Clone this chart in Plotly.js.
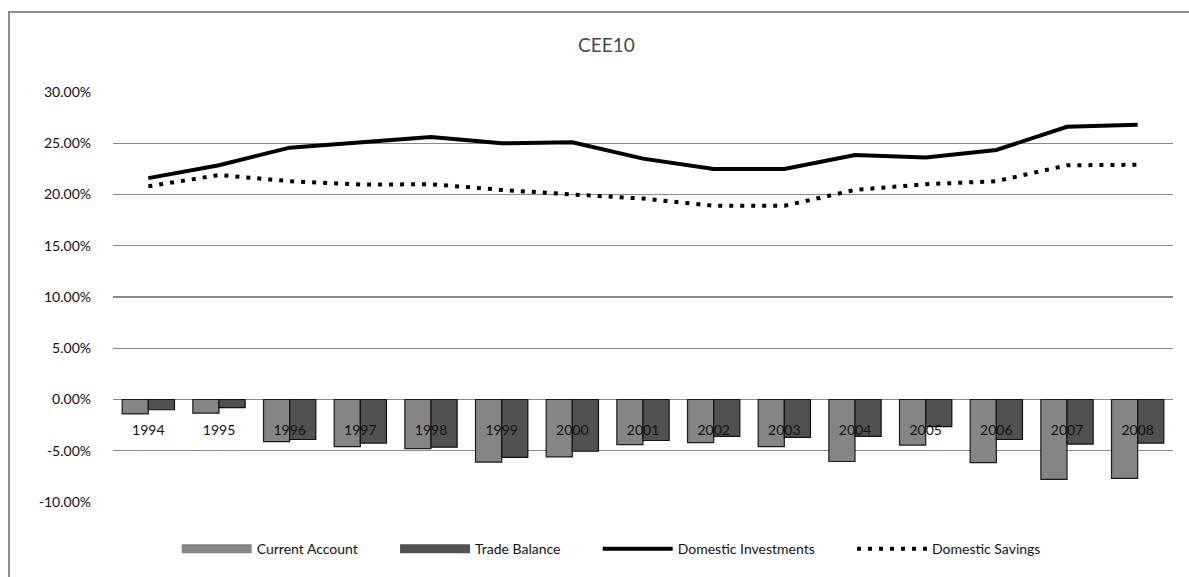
<!DOCTYPE html>
<html>
<head>
<meta charset="utf-8">
<script src="https://cdn.plot.ly/plotly-3.0.1.min.js"></script>
<style>
  html, body { margin: 0; padding: 0; background: #fff; overflow: hidden; }
  #wrap { position: relative; width: 1189px; height: 577px; }
  #chart { position: absolute; left: 0; top: 0; width: 1189px; height: 577px; }
  #frame { position: absolute; left: 8px; top: 11px; width: 1300px; height: 700px;
           border: 2px solid #8c8c8c; pointer-events: none; box-sizing: border-box; }
</style>
</head>
<body>
<div id="wrap">
  <div id="chart"></div>
  <div id="frame"></div>
</div>
<script>
const years = ["1994","1995","1996","1997","1998","1999","2000","2001","2002","2003","2004","2005","2006","2007","2008"];
const currentAccount = [-0.014,-0.0133,-0.041,-0.046,-0.048,-0.061,-0.056,-0.044,-0.042,-0.046,-0.0605,-0.0445,-0.0615,-0.078,-0.077];
const tradeBalance   = [-0.010,-0.008,-0.039,-0.0425,-0.0465,-0.0565,-0.0505,-0.040,-0.036,-0.037,-0.036,-0.0265,-0.039,-0.0435,-0.0425];
const domesticInvestments = [0.216,0.2285,0.2457,0.2505,0.256,0.250,0.251,0.235,0.225,0.225,0.2385,0.236,0.2435,0.266,0.268];
const domesticSavings     = [0.208,0.219,0.213,0.2097,0.210,0.2045,0.200,0.196,0.189,0.189,0.2045,0.210,0.213,0.2285,0.229];
const yTickVals = [-0.10,-0.05,0,0.05,0.10,0.15,0.20,0.25,0.30];
const yTickText = ["-10.00%","-5.00%","0.00%","5.00%","10.00%","15.00%","20.00%","25.00%","30.00%"];
const seriesNames = ["Current Account","Trade Balance","Domestic Investments","Domestic Savings"];

const FONT = "Lato, 'Open Sans', sans-serif";
const PAD = "\u00a0".repeat(9);

const traces = [
  {
    type: "bar", name: seriesNames[0], x: years, y: currentAccount, showlegend: false,
    marker: { color: "#858585", line: { color: "#1a1a1a", width: 1.2 } }
  },
  {
    type: "bar", name: seriesNames[1], x: years, y: tradeBalance, showlegend: false,
    marker: { color: "#515151", line: { color: "#111", width: 1.2 } }
  },
  // legend swatches for the bar series (wide rectangles, as in the original)
  {
    type: "scatter", mode: "lines", name: seriesNames[0] + PAD, x: [years[0]], y: [null],
    line: { color: "#858585", width: 9 }, hoverinfo: "skip"
  },
  {
    type: "scatter", mode: "lines", name: seriesNames[1] + PAD, x: [years[0]], y: [null],
    line: { color: "#515151", width: 9 }, hoverinfo: "skip"
  },
  {
    type: "scatter", mode: "lines", name: seriesNames[2] + PAD, x: years, y: domesticInvestments,
    line: { color: "#000", width: 4 }
  },
  {
    type: "scatter", mode: "lines", name: seriesNames[3], x: years, y: domesticSavings,
    line: { color: "#000", width: 4, dash: "4px,7px" }
  }
];

const layout = {
  width: 1189, height: 577,
  paper_bgcolor: "#fff", plot_bgcolor: "#fff",
  margin: { l: 113, r: 16, t: 92, b: 75 },
  font: { family: FONT, size: 14, color: "#111" },
  title: { text: "CEE10", font: { family: FONT, size: 19, color: "#4a4a4a" },
           xref: "container", x: 0.51, xanchor: "center",
           yref: "container", y: 1 - 45/577, yanchor: "middle" },
  barmode: "group", bargap: 0.26, bargroupgap: 0,
  showlegend: true,
  legend: { orientation: "h", xref: "paper", x: 0.47, xanchor: "center",
            yref: "paper", y: -0.115, yanchor: "middle",
            itemwidth: 70, font: { family: FONT, size: 14, color: "#111" },
            traceorder: "normal", itemclick: false },
  xaxis: {
    type: "category", anchor: "free", position: 0.25,
    showgrid: false, showline: false, zeroline: false, ticks: "",
    ticklabelstandoff: 20,
    tickfont: { family: FONT, size: 14, color: "#111" }
  },
  yaxis: {
    range: [-0.10, 0.30], tickmode: "array", tickvals: yTickVals, ticktext: yTickText,
    showgrid: true, gridcolor: "#8a8a8a", gridwidth: 1.3,
    zeroline: false, showline: false, ticks: "",
    ticklabelstandoff: 21,
    tickfont: { family: FONT, size: 14, color: "#111" }
  }
};

Plotly.newPlot("chart", traces, layout, { displayModeBar: false, staticPlot: true });
</script>
</body>
</html>
